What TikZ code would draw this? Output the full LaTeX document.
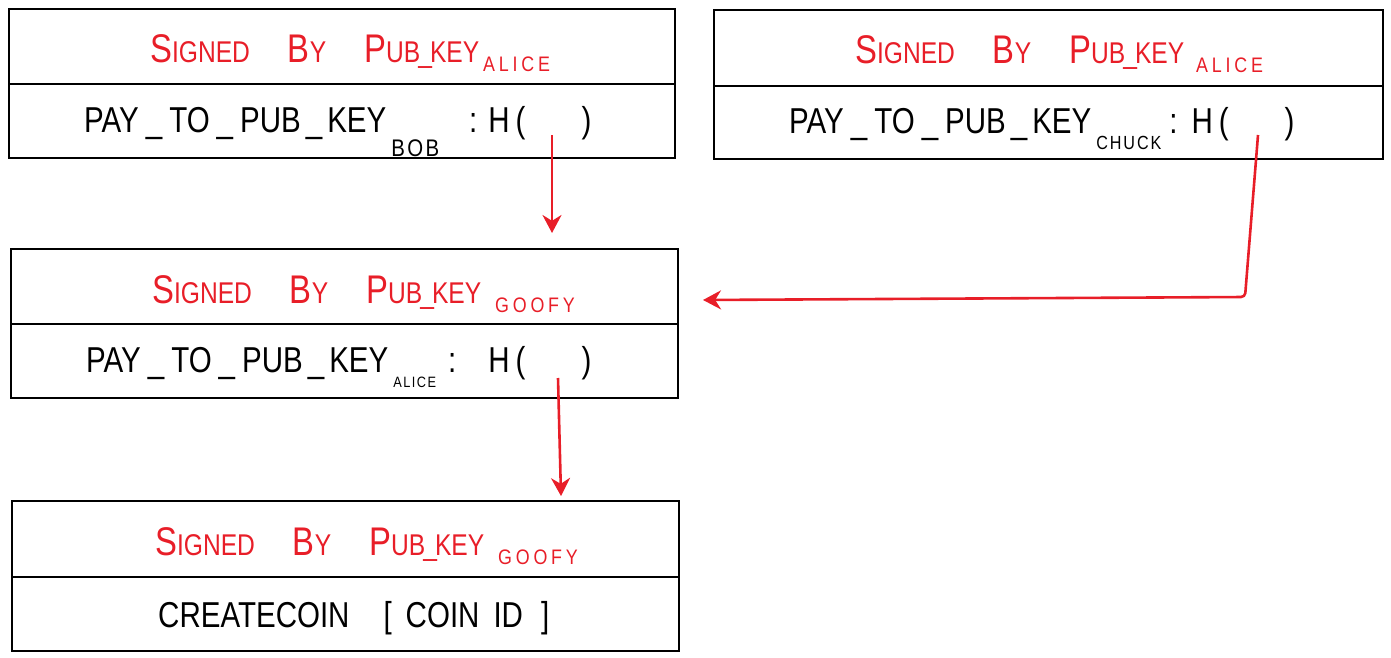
\documentclass[tikz,border=0pt]{standalone}
\usepackage{fontspec}
\setmainfont{Liberation Sans}
\newfontfamily\hand[FakeStretch=0.82]{Liberation Sans}
\newfontfamily\subf[FakeStretch=0.85,LetterSpace=18]{Liberation Sans}
\newfontfamily\subg[FakeStretch=0.85,LetterSpace=10]{Liberation Sans}
\usetikzlibrary{arrows.meta}
\definecolor{sigred}{RGB}{232,30,40}
\newcommand\Bg[1]{{\fontsize{40}{40}\selectfont #1}}
\newcommand\Sm[1]{{\fontsize{30}{30}\selectfont #1}}
\newcommand\sigline[2]{\Bg{S}\Sm{IGNED}\hspace{38pt}\Bg{B}\Sm{Y}\hspace{38pt}\Bg{P}\Sm{UB\kern-2pt\_\kern-2pt KEY}\hspace{#2}\raisebox{-9pt}{\subf\fontsize{21}{21}\selectfont #1}}
\newcommand\payline[5]{\fontsize{36}{36}\selectfont PAY\hspace{7pt}\_\hspace{7pt}TO\hspace{7pt}\_\hspace{7pt}PUB\hspace{5pt}\_\hspace{5pt}KEY\hspace{5pt}\raisebox{#2}{\subg\fontsize{#3}{#3}\selectfont #1}\hspace{#4}:\hspace{#5}H\hspace{6pt}(\hspace{56pt})}
\begin{document}
\begin{tikzpicture}[x=1pt,y=-1pt,
  box/.style={draw, line width=1.6pt, anchor=north west, inner sep=0pt, minimum height=149pt},
  sig/.style={text=sigred, anchor=base west, inner sep=0pt, font=\hand},
  pay/.style={anchor=base west, inner sep=0pt, font=\hand},
  link/.style={draw=sigred, line width=2.6pt, -{Stealth[length=18pt,width=19pt]}}]
\useasboundingbox (0,0) rectangle (1391,658);
% boxes
\node[box, minimum width=666pt] (b1) at (8,8) {};
\node[box, minimum width=669pt] (b2) at (713,9) {};
\node[box, minimum width=667pt] (b3) at (10,248) {};
\node[box, minimum width=667pt, minimum height=150pt] (b4) at (11,500) {};
% dividers
\foreach \b/\d in {b1/76, b2/77, b3/76, b4/77}{
  \draw[line width=1.3pt] ([yshift=-\d pt]\b.north west) -- ([yshift=-\d pt]\b.north east);
}
% red headers
\node[sig] (s1) at (150,63) {\sigline{ALICE}{4pt}};
\node[sig] (s2) at (855,64) {\sigline{ALICE}{12pt}};
\node[sig] (s3) at (152,303) {\sigline{GOOFY}{14pt}};
\node[sig] (s4) at (155,555) {\sigline{GOOFY}{14pt}};
% black rows
\node[pay] (p1) at (84,132) {\payline{BOB}{-24pt}{24}{30pt}{11pt}};
\node[pay] (p2) at (789,133) {\payline{CHUCK}{-17pt}{19}{8pt}{14pt}};
\node[pay] (p3) at (86,372) {\payline{ALICE}{-15pt}{15}{12pt}{32pt}};
\node[pay] (p4) at (158,627) {\fontsize{36}{36}\selectfont CREATECOIN\hspace{34pt}[\hspace{14pt}COIN\hspace{14pt}ID\hspace{18pt}]};
% arrow anchors
\coordinate (h1) at (552,135);
\coordinate (t1) at (552,233);
\coordinate (h2) at (1258,135);
\coordinate (c2) at (1245,297);
\coordinate (t2) at (703,300);
\coordinate (h3) at (558,378);
\coordinate (t3) at (561,496);
\draw[link] (h1) -- (t1);
\draw[link, rounded corners=4pt] (h2) -- (c2) -- (t2);
\draw[link] (h3) -- (t3);
\end{tikzpicture}
\end{document}
